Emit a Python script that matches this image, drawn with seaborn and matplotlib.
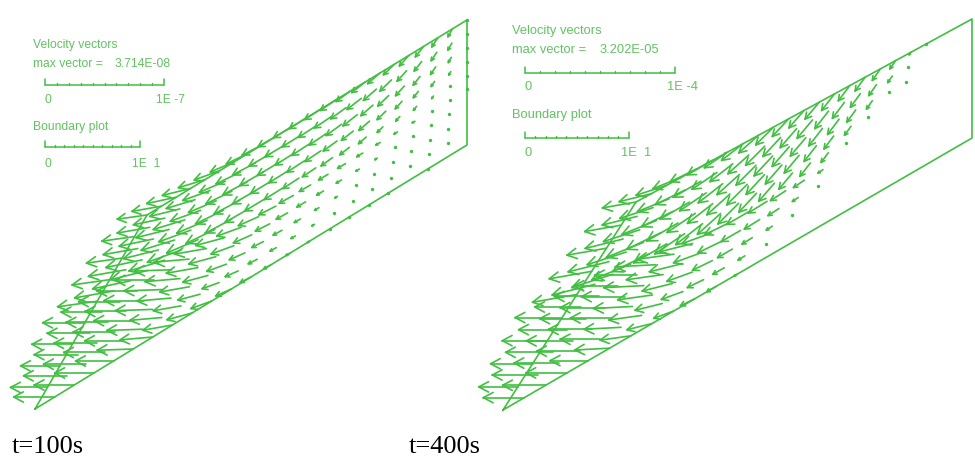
import numpy as np
import pandas as pd
import matplotlib
matplotlib.use("Agg")
import matplotlib.pyplot as plt
from matplotlib.collections import LineCollection
import seaborn as sns

# ---------------- data ----------------
panel_titles = ["t=100s", "t=400s"]
max_vector_labels = ["3.714E-08", "3.202E-05"]
scale_bar_values = [1e-7, 1e-4]          # velocity scale bar value
scale_bar_labels = ["1E -7", "1E -4"]
boundary_bar_label = "1E  1"

# velocity magnitude at mesh nodes, rows = across slope (bottom -> top),
# columns = along slope (left -> right)
# t = 100 s, units of 1E-9
speed_t100 = [
    [0.0, 34.4, 33.6, 32.8, 31.9, 30.2, 27.7, 25.2, 21.8, 18.5, 14.3, 10.1, 6.7, 4.2, 2.5, 1.7, 0.8, 0.4, 0.4, 0.0, 0.4, 0.0, 0.0],
    [31.0, 36.1, 35.3, 34.4, 32.8, 30.2, 26.9, 23.5, 19.3, 15.1, 11.8, 8.4, 5.9, 4.2, 2.5, 1.7, 0.8, 0.8, 0.8, 0.8, 0.8, 0.8, 0.0],
    [33.0, 37.1, 36.1, 35.3, 33.6, 31.1, 28.6, 25.2, 21.8, 17.6, 14.3, 10.9, 8.4, 5.9, 4.2, 2.5, 1.7, 0.8, 0.8, 0.8, 0.8, 0.8, 0.0],
    [34.0, 36.1, 35.3, 34.4, 33.6, 31.9, 29.4, 26.9, 23.5, 20.2, 16.8, 13.4, 10.9, 8.4, 6.7, 5.0, 3.4, 2.5, 1.7, 0.8, 0.8, 0.8, 0.0],
    [35.3, 34.4, 34.4, 33.6, 32.8, 31.1, 29.4, 26.9, 24.4, 21.8, 18.5, 16.0, 13.4, 10.9, 9.2, 7.6, 5.9, 4.2, 3.4, 2.5, 1.7, 0.8, 0.8],
    [33.6, 33.6, 32.8, 31.9, 31.1, 30.2, 28.6, 26.9, 25.2, 22.7, 20.2, 17.6, 16.0, 13.4, 11.8, 10.1, 8.4, 6.7, 5.0, 4.2, 2.5, 1.7, 0.8],
    [31.9, 31.9, 31.1, 30.2, 29.4, 28.6, 27.7, 26.0, 24.4, 22.7, 21.0, 19.3, 17.6, 16.0, 14.3, 12.6, 11.8, 10.1, 8.4, 6.7, 5.0, 3.4, 0.8],
    [30.2, 29.4, 29.4, 28.6, 27.7, 26.9, 25.2, 24.4, 23.5, 22.7, 21.0, 19.3, 18.5, 16.8, 16.0, 15.1, 13.4, 12.6, 10.9, 9.2, 7.6, 5.0, 0.8],
    [27.7, 27.7, 26.9, 26.0, 25.2, 24.4, 23.5, 22.7, 21.8, 21.0, 20.2, 18.5, 17.6, 16.8, 16.0, 15.1, 14.3, 13.4, 11.8, 10.1, 8.4, 6.7, 0.8],
    [25.2, 25.2, 25.2, 24.4, 23.5, 22.7, 21.8, 21.0, 20.2, 19.3, 18.5, 17.6, 16.8, 16.0, 15.1, 14.3, 13.4, 12.6, 11.8, 10.9, 9.2, 7.6, 0.8],
]
# direction, degrees below the leftward horizontal, per column (lower / upper half)
angle_low_t100 = [0, 0, 0, 0, 0, 2, 5, 10, 15, 20, 24, 27, 29, 30, 31, 31, 31, 31, 31, 31, 31, 31, 31]
angle_high_t100 = [8, 10, 12, 14, 17, 20, 23, 26, 28, 30, 31, 32, 33, 34, 36, 38, 41, 44, 48, 52, 56, 60, 65]

# t = 400 s, units of 1E-6
speed_t400 = [
    [0.0, 27.3, 28.7, 27.3, 25.3, 23.3, 20.7, 17.3, 14.0, 10.7, 7.3, 2.7, 0, 0, 0, 0, 0, 0, 0, 0, 0, 0, 0],
    [26.0, 30.7, 30.0, 28.7, 26.7, 24.7, 22.0, 18.7, 15.3, 12.0, 8.7, 5.3, 1.3, 0, 0, 0, 0, 0, 0, 0, 0, 0, 0],
    [28.0, 31.3, 30.7, 29.3, 28.0, 26.0, 23.3, 20.7, 18.0, 14.7, 11.3, 8.0, 4.7, 0.7, 0, 0, 0, 0, 0, 0, 0, 0, 0],
    [30.0, 32.0, 30.7, 30.0, 28.7, 26.7, 24.7, 22.7, 20.0, 17.3, 14.7, 12.0, 8.7, 4.7, 0.7, 0, 0, 0, 0, 0, 0, 0, 0],
    [31.3, 30.7, 30.0, 29.3, 28.0, 26.7, 24.7, 22.7, 20.7, 18.7, 16.7, 14.7, 12.0, 8.7, 4.0, 0, 0, 0, 0, 0, 0, 0, 0],
    [30.0, 29.3, 28.7, 28.0, 26.7, 25.3, 24.0, 22.7, 20.7, 19.3, 17.3, 16.0, 14.0, 11.3, 8.0, 1.3, 0, 0, 0, 0, 0, 0, 0],
    [28.7, 28.0, 27.3, 26.7, 25.3, 24.0, 22.7, 21.3, 20.7, 19.3, 18.0, 16.7, 15.3, 13.3, 10.7, 7.3, 1.3, 0, 0, 0, 0, 0, 0],
    [26.7, 26.0, 25.3, 24.7, 23.3, 22.7, 21.3, 20.7, 20.0, 18.7, 18.0, 17.3, 16.0, 14.7, 12.7, 10.0, 6.7, 1.3, 0.7, 0, 0, 0, 0],
    [24.7, 24.0, 23.3, 22.7, 22.0, 21.3, 20.0, 19.3, 18.7, 18.0, 17.3, 16.7, 16.0, 14.7, 13.3, 11.3, 8.7, 5.3, 1.3, 0, 0, 0, 0],
    [22.7, 22.0, 21.3, 20.7, 20.0, 19.3, 18.7, 18.0, 17.3, 16.7, 16.0, 15.3, 14.7, 14.0, 12.7, 11.3, 9.3, 6.7, 2.0, 0.7, 0, 0, 0],
]
angle_low_t400 = [0, 0, 0, 0, 0, 3, 8, 14, 20, 26, 30, 32, 33, 34, 35, 38, 40, 45, 50, 52, 52, 52, 52]
angle_high_t400 = [10, 14, 18, 22, 26, 30, 34, 38, 42, 45, 47, 49, 50, 52, 53, 54, 55, 55, 55, 55, 55, 55, 55]

speed_units = [1e-9, 1e-6]

# ---------------- layout / style ----------------
GREEN = "#42bf42"
TEXT_GREEN = "#62c262"

sns.set_theme(style="white")
plt.rcParams['font.family'] = ['Liberation Sans', 'DejaVu Sans']

fig = plt.figure(figsize=(9.75, 4.61), dpi=100)
ax = fig.add_axes([0, 0, 1, 1])
ax.set_xlim(0, 975)
ax.set_ylim(461, 0)
ax.axis("off")

panels = [
    dict(corners=[(35, 409), (467, 145), (467, 20), (147, 215)],
         speed=speed_t100, alow=angle_low_t100, ahigh=angle_high_t100,
         bar_px=119, legend_x=33, text_scale=1.0,
         ys=dict(t1=45, t2=64, bar=85, lab=100, t3=127, bar2=147, lab2=164),
         bar2_px=95, title_x=12),
    dict(corners=[(503, 410), (972, 138), (972, 19), (636, 202)],
         speed=speed_t400, alow=angle_low_t400, ahigh=angle_high_t400,
         bar_px=150, legend_x=512, text_scale=1.07,
         ys=dict(t1=31, t2=50, bar=73, lab=87, t3=115, bar2=138, lab2=153),
         bar2_px=104, title_x=409),
]

for k, p in enumerate(panels):
    BL, BR, TR, TL = [np.array(c, float) for c in p["corners"]]
    # outline
    outline = pd.DataFrame([BL, BR, TR, TL, BL], columns=["x", "y"])
    sns.lineplot(data=outline, x="x", y="y", sort=False, estimator=None,
                 color=GREEN, lw=1.2, ax=ax)

    speed = np.array(p["speed"], float)
    nj, ni = speed.shape
    px_per_unit = p["bar_px"] / (scale_bar_values[k] / speed_units[k])
    segs, dots = [], []
    for j in range(nj):
        t = j / (nj - 1)
        for i in range(ni):
            s = i / (ni - 1)
            b = BL + s * (BR - BL)
            tp = TL + s * (TR - TL)
            x0, y0 = b + t * (tp - b)
            v = speed[j, i]
            if v <= 0:
                continue
            L = v * px_per_unit
            if L < 2.2:
                dots.append((x0, y0))
                continue
            a = np.radians(p["alow"][i] if j < nj // 2 else p["ahigh"][i])
            d = np.array([-np.cos(a), np.sin(a)])
            tip = np.array([x0, y0]) + L * d
            segs.append([(x0, y0), tuple(tip)])
            h = min(0.3 * L + 0.5, 11.0)
            for sg in (1, -1):
                ang = np.radians(28) * sg
                r = np.array([d[0] * np.cos(ang) - d[1] * np.sin(ang),
                              d[0] * np.sin(ang) + d[1] * np.cos(ang)])
                segs.append([tuple(tip), tuple(tip - h * r)])
    ax.add_collection(LineCollection(segs, colors=GREEN, linewidths=1.2,
                                     capstyle="round", joinstyle="round"))
    if dots:
        dd = pd.DataFrame(dots, columns=["x", "y"])
        sns.scatterplot(data=dd, x="x", y="y", s=6, color=GREEN,
                        linewidth=0, ax=ax)

    # legend block
    lx = p["legend_x"]
    ys = p["ys"]
    fs = 8.7 * p["text_scale"]
    ax.text(lx, ys["t1"], "Velocity vectors", color=TEXT_GREEN, fontsize=fs, va="center")
    ax.text(lx, ys["t2"], "max vector =", color=TEXT_GREEN, fontsize=fs, va="center")
    ax.text(lx + 82 * p["text_scale"], ys["t2"], max_vector_labels[k],
            color=TEXT_GREEN, fontsize=fs, va="center")
    ax.text(lx, ys["t3"], "Boundary plot", color=TEXT_GREEN, fontsize=fs, va="center")

    for (yb, blen, yl, lab) in [(ys["bar"], p["bar_px"], ys["lab"], scale_bar_labels[k]),
                                 (ys["bar2"], p["bar2_px"], ys["lab2"], boundary_bar_label)]:
        x0b = lx + 12 * p["text_scale"]
        x1b = x0b + blen
        ax.plot([x0b, x1b], [yb, yb], color=GREEN, lw=1.1)
        ax.plot([x0b, x0b], [yb, yb - 6], color=GREEN, lw=1.1)
        ax.plot([x1b, x1b], [yb, yb - 6], color=GREEN, lw=1.1)
        for m in range(1, 10):
            xm = x0b + blen * m / 10
            ax.plot([xm, xm], [yb, yb - 2], color=GREEN, lw=1.0)
        ax.text(x0b + 3, yl, "0", color=TEXT_GREEN, fontsize=fs, va="center", ha="center")
        ax.text(x1b - 8, yl, lab, color=TEXT_GREEN, fontsize=fs, va="center", ha="left")

    ax.text(p["title_x"], 447, panel_titles[k], fontsize=19, color="black",
            family=["Liberation Serif", "DejaVu Serif"], va="center", ha="left")

fig.savefig("out.png", dpi=100)
